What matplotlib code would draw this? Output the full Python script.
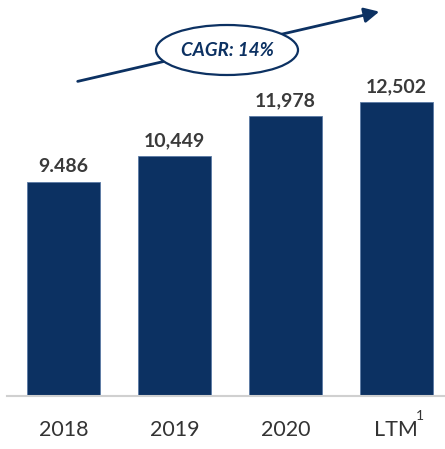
import matplotlib.pyplot as plt
from matplotlib.patches import Ellipse, FancyArrowPatch

# data
categories = ["2018", "2019", "2020", "LTM"]
footnote = "1"
values = [9486, 10449, 11978, 12502]
value_labels = ["9.486", "10,449", "11,978", "12,502"]
cagr_text = "CAGR: 14%"

navy = "#0c3162"
W, H = 445, 449

plt.rcParams['font.family'] = ['Lato', 'DejaVu Sans']

fig = plt.figure(figsize=(W / 100, H / 100), dpi=100)
ax = fig.add_axes([7 / W, 53 / H, 1 - 7 / W, 1 - 53 / H])

x = list(range(len(categories)))
ax.bar(x, values, width=0.66, color=navy, edgecolor="#5a7aa5", linewidth=0.6, zorder=2)

for xi, v, lab in zip(x, values, value_labels):
    ax.annotate(lab, (xi, v), xytext=(0, 5), textcoords="offset points",
                ha="center", va="bottom", fontsize=14, fontweight="bold", color="#3a3a3a")

ax.set_xlim(-0.51, 3.44)
ax.set_ylim(1420, 1420 + 396 / 0.02653)
ax.set_xticks(x)
ax.set_xticklabels(categories, fontsize=15.5, color="#333333")
ax.tick_params(axis="x", length=0, pad=17)
ax.set_yticks([])
for s in ["top", "left", "right"]:
    ax.spines[s].set_visible(False)
ax.spines["bottom"].set_color("#d0d0d0")
ax.spines["bottom"].set_linewidth(1.5)

# footnote marker next to LTM
ax.annotate(footnote, (x[-1], 0), xycoords=("data", "axes fraction"),
            xytext=(14, -10), textcoords="offset points",
            ha="left", va="top", fontsize=10, color="#333333")

# CAGR arrow with ellipse
fig.patches.append(FancyArrowPatch(
    (75 / W, 1 - 82 / H), (382 / W, 1 - 11 / H), transform=fig.transFigure,
    arrowstyle="-|>,head_length=9,head_width=4.5", color=navy, linewidth=2, zorder=3))
ell = Ellipse((227 / W, 1 - 50 / H), 142 / W, 50 / H, transform=fig.transFigure,
              facecolor="white", edgecolor=navy, linewidth=1.6, zorder=4)
fig.patches.append(ell)
fig.text(227 / W, 1 - 50 / H, cagr_text, ha="center", va="center", fontsize=13.5,
         fontweight="bold", fontstyle="italic", color=navy, zorder=5)

fig.savefig("out.png", dpi=100)
